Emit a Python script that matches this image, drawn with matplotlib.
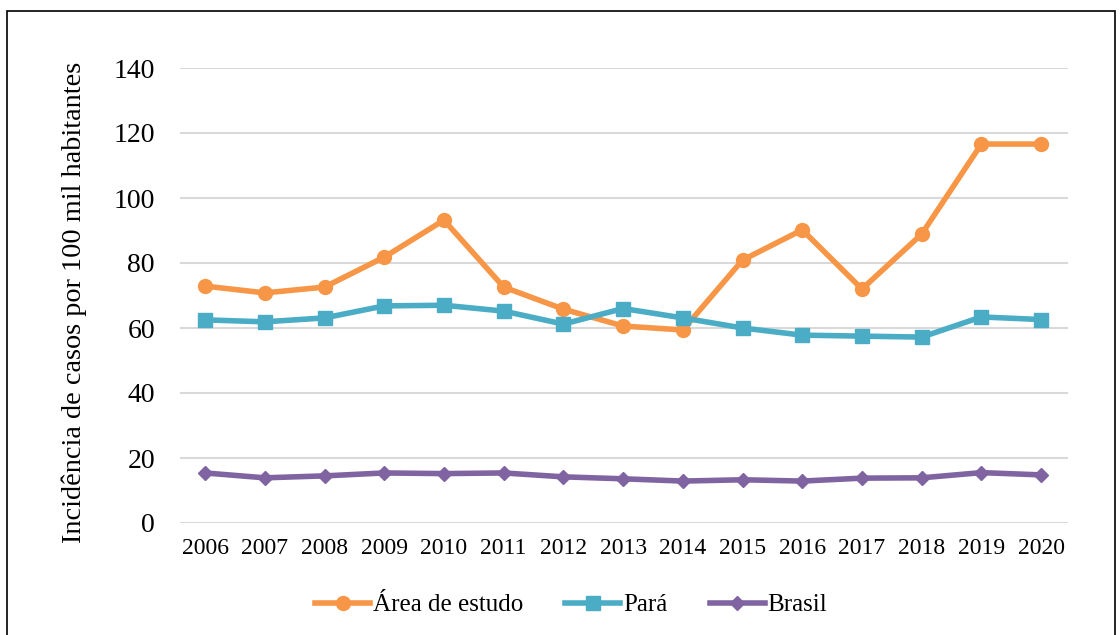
import matplotlib
matplotlib.use("Agg")
import matplotlib.pyplot as plt
from matplotlib.patches import Rectangle

years = ["2006", "2007", "2008", "2009", "2010", "2011", "2012", "2013",
         "2014", "2015", "2016", "2017", "2018", "2019", "2020"]
area_estudo = [72.9, 70.8, 72.6, 81.8, 93.2, 72.6, 65.8, 60.6, 59.4, 80.9,
               90.2, 72.0, 88.9, 116.6, 116.6]
para = [62.5, 61.9, 63.1, 66.8, 67.0, 65.2, 61.2, 66.0, 63.1, 60.0,
        57.8, 57.5, 57.2, 63.4, 62.6]
brasil = [15.4, 13.9, 14.5, 15.4, 15.2, 15.4, 14.2, 13.6, 12.9, 13.3,
          12.9, 13.8, 13.9, 15.5, 14.8]
yticks = [0, 20, 40, 60, 80, 100, 120, 140]

plt.rcParams['font.family'] = ['Liberation Serif', 'DejaVu Serif']

fig = plt.figure(figsize=(11.2, 6.35), dpi=100)
ax = fig.add_axes([180/1120, 1 - 523/635, 888/1120, 455/635])

x = list(range(len(years)))
ax.plot(x, area_estudo, color='#F79646', lw=4, marker='o', ms=10,
        label='Área de estudo', zorder=3)
ax.plot(x, para, color='#4BACC6', lw=4, marker='s', ms=10,
        label='Pará', zorder=3)
ax.plot(x, brasil, color='#8064A2', lw=4, marker='D', ms=7,
        label='Brasil', zorder=3)

ax.set_ylim(0, 140)
ax.set_xlim(-0.42, 14.45)
ax.set_yticks(yticks)
ax.set_yticklabels([str(v) for v in yticks], fontsize=20)
ax.set_xticks(x)
ax.set_xticklabels(years, fontsize=17)
ax.tick_params(axis='both', length=0)
ax.tick_params(axis='y', pad=18)
ax.tick_params(axis='x', pad=11)
ax.grid(axis='y', color='#D9D9D9', lw=1.5)
ax.set_axisbelow(True)
for s in ax.spines.values():
    s.set_visible(False)
ax.set_ylabel('Incidência de casos por 100 mil habitantes', fontsize=20.3)
ax.yaxis.set_label_coords(-93/888, 0.485)

leg = fig.legend(loc='center', bbox_to_anchor=(571/1120, 1 - 605/635), ncol=3,
                 frameon=False, fontsize=18, handlelength=2.2, handletextpad=0.1,
                 columnspacing=1.7)

fig.patches.append(Rectangle((7/1120, -0.01), (1115-7)/1120, 1 - 11/635 + 0.01,
                             transform=fig.transFigure, fill=False,
                             edgecolor='black', lw=1.2))

fig.savefig('out.png', dpi=100)
